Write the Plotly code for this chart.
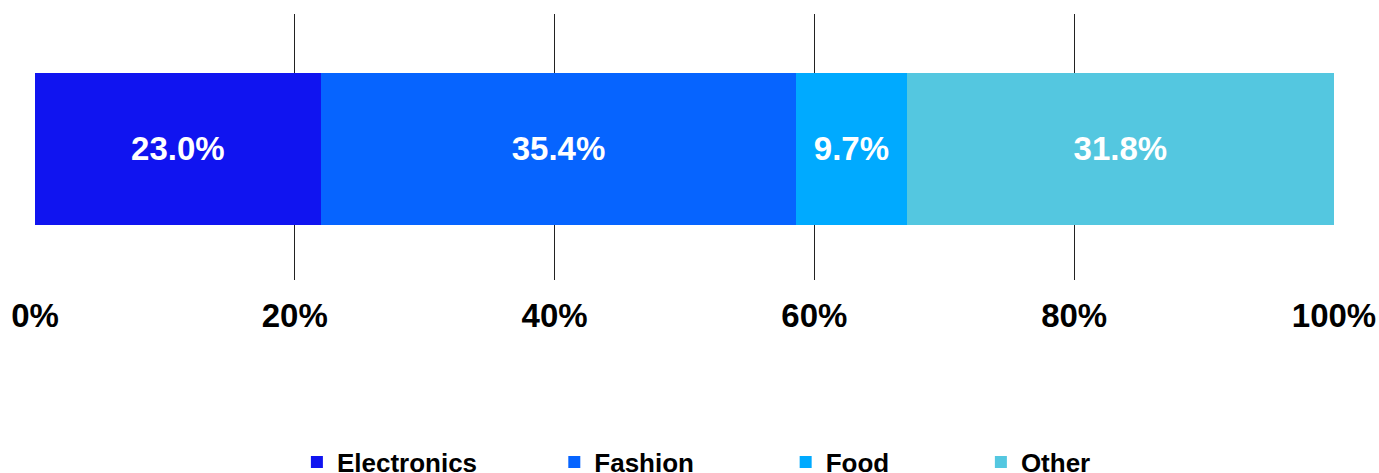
import plotly.graph_objects as go

categories = ["Electronics", "Fashion", "Food", "Other"]
values = [22.0, 36.6, 8.5, 32.9]
labels = ["23.0%", "35.4%", "9.7%", "31.8%"]
colors = ["#1014F0", "#0664FF", "#00AAFF", "#54C7E0"]
tick_vals = [0, 20, 40, 60, 80, 100]
tick_text = ["0%", "20%", "40%", "60%", "80%", "100%"]

FONT = "Liberation Sans, Arial, Helvetica, sans-serif"
NB = "\u00a0"
pads = [10, 12, 12, 0]

fig = go.Figure()
for cat, val, lab, col, p in zip(categories, values, labels, colors, pads):
    fig.add_trace(go.Bar(
        x=[val], y=[""], orientation="h", name=cat + NB * p,
        marker=dict(color=col, line=dict(width=0)),
        text=[lab], textposition="inside", insidetextanchor="middle",
        textfont=dict(family=FONT, size=33, color="white", weight="bold"),
        width=0.57,
    ))

fig.update_layout(
    barmode="stack",
    width=1379, height=473,
    margin=dict(l=35, r=45, t=14, b=193, autoexpand=False),
    plot_bgcolor="white", paper_bgcolor="white",
    font=dict(family=FONT, color="black"),
    showlegend=True,
    legend=dict(orientation="h", xref="container", yref="container",
                x=0.505, xanchor="center", y=0.023, yanchor="middle",
                font=dict(family=FONT, size=26, color="black", weight="bold"),
                traceorder="normal"),
    xaxis=dict(range=[0, 100], tickvals=tick_vals, ticktext=tick_text,
               showgrid=True, gridcolor="#222", gridwidth=1,
               zeroline=False, showline=False, ticks="", automargin=False,
               ticklabelstandoff=13,
               tickfont=dict(family=FONT, size=33, color="black", weight="bold")),
    yaxis=dict(range=[-0.4925, 0.5075], showticklabels=False, showgrid=False,
               zeroline=False, showline=False, ticks="", automargin=False),
)

fig.write_html(
    "out.html",
    config={"displayModeBar": False},
    post_script="document.body.style.margin='0';document.body.style.overflow='hidden';",
)
